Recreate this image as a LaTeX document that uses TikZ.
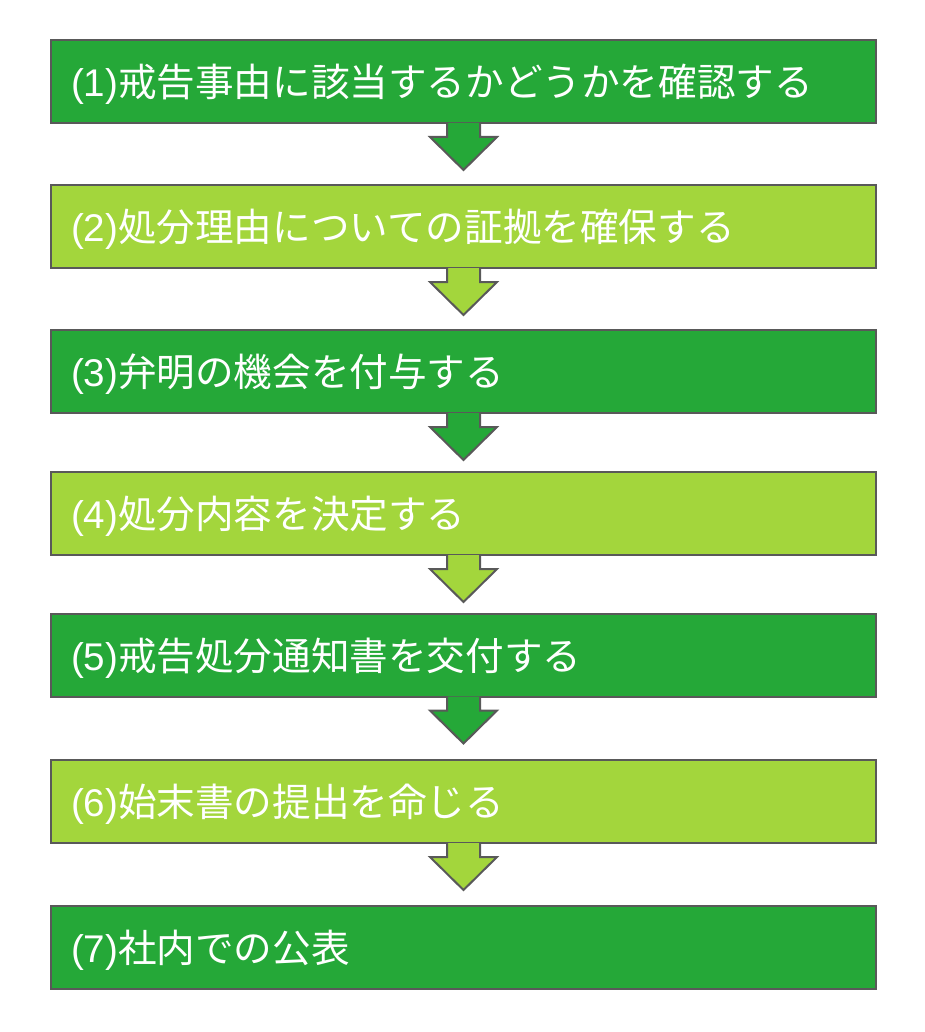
\documentclass[tikz,border=0pt]{standalone}
\usepackage{fontspec}
\setmainfont{Noto Sans CJK JP}
\newfontfamily\latinfont{Liberation Sans}
\usepackage{xcolor}
\definecolor{stepdark}{HTML}{25A838}
\definecolor{steplight}{HTML}{A3D63C}
\definecolor{stepline}{HTML}{595959}

\begin{document}
\begin{tikzpicture}[x=1pt,y=1pt,
  stepbox/.style ={draw=stepline,line width=2pt,rectangle,
                   minimum height=83pt,inner xsep=20pt,inner ysep=0pt,
                   text width=785pt,align=left,text=white,
                   text height=30pt,text depth=0pt,
                   font=\fontsize{38.6}{46}\selectfont},
  darkstep/.style ={stepbox,fill=stepdark},
  lightstep/.style={stepbox,fill=steplight},
  downarrow/.style={draw=stepline,line width=2pt,line join=miter}
]
  \useasboundingbox (0,0) rectangle (924,-1032);

  % ----- down arrow below a step -----
  \def\stepdown#1#2{%
    \filldraw[downarrow,fill=#2] ([xshift=-16.5pt,yshift=1pt]#1.south)
      -- ++(0,-14) -- ++(-17,0) -- ++(33.5,-33) -- ++(33.5,33)
      -- ++(-17,0) -- ++(0,14);}

  % ----- steps -----
  \node[darkstep]  (s1) at (463.5,-81.5) {{\latinfont(1)}戒告事由に該当するかどうかを確認する};
  \node[lightstep] (s2) at (463.5,-226.5) {{\latinfont(2)}処分理由についての証拠を確保する};
  \node[darkstep]  (s3) at (463.5,-371.5) {{\latinfont(3)}弁明の機会を付与する};
  \node[lightstep] (s4) at (463.5,-513.5) {{\latinfont(4)}処分内容を決定する};
  \node[darkstep]  (s5) at (463.5,-655) {{\latinfont(5)}戒告処分通知書を交付する};
  \node[lightstep] (s6) at (463.5,-801.5) {{\latinfont(6)}始末書の提出を命じる};
  \node[darkstep]  (s7) at (463.5,-947) {{\latinfont(7)}社内での公表};

  % ----- arrows -----
  \stepdown{s1}{stepdark}
  \stepdown{s2}{steplight}
  \stepdown{s3}{stepdark}
  \stepdown{s4}{steplight}
  \stepdown{s5}{stepdark}
  \stepdown{s6}{steplight}
\end{tikzpicture}
\end{document}
